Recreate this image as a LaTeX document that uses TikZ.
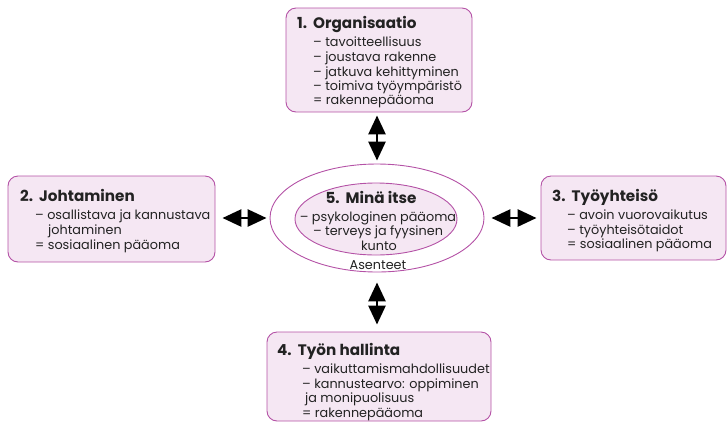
\documentclass[tikz,border=0pt]{standalone}
\usepackage{fontspec}
\setmainfont{Poppins}
\usetikzlibrary{shapes.geometric,arrows.meta}
\definecolor{bord}{HTML}{B452A6}
\definecolor{fillp}{HTML}{F5E7F3}
\definecolor{ink}{HTML}{222222}
\begin{document}
\begin{tikzpicture}[x=1pt,y=-1pt,
  box/.style={draw=bord, fill=fillp, line width=0.9pt, rounded corners=10pt, inner sep=0pt},
  ttl/.style={anchor=base west, inner sep=0pt, text=ink, font=\bfseries\fontsize{15.2}{17}\selectfont},
  txt/.style={anchor=base west, inner sep=0pt, text=ink, font=\fontsize{12.8}{14}\selectfont},
  ctxt/.style={txt, anchor=base},
  cttl/.style={ttl, anchor=base},
  dbl/.style={line width=2.8pt, draw=black, {Triangle[length=19pt,width=17pt]}-{Triangle[length=19pt,width=17pt]}}
]
\useasboundingbox (0,0) rectangle (728,424);

% boxes
\node[box, minimum width=186pt, minimum height=104pt] (b1) at (379,60) {};
\node[box, minimum width=207pt, minimum height=86pt] (b2) at (111.5,219) {};
\node[box, minimum width=185pt, minimum height=84pt] (b3) at (633.5,218) {};
\node[box, minimum width=224pt, minimum height=89pt] (b4) at (379,376.5) {};

% ellipses
\node[ellipse, draw=bord, line width=0.9pt, minimum width=214pt, minimum height=108pt, inner sep=0pt] (outer) at (377,218) {};
\node[ellipse, draw=bord, fill=fillp, line width=0.9pt, minimum width=162pt, minimum height=72pt, inner sep=0pt] (inner) at (376,219) {};

% box 1
\node[ttl] (t1) at (297,28) {1.\hspace{6pt}Organisaatio};
\node[txt] (t1a) at (313,46) {– tavoitteellisuus};
\node[txt] (t1b) at (313,61) {– joustava rakenne};
\node[txt] (t1c) at (313,76) {– jatkuva kehittyminen};
\node[txt] (t1d) at (313,90) {– toimiva työympäristö};
\node[txt] (t1e) at (313,104.5) {= rakennepääoma};

% box 2
\node[ttl] (t2) at (20,201) {2.\hspace{6pt}Johtaminen};
\node[txt] (t2a) at (35,219) {– osallistava ja kannustava};
\node[txt] (t2b) at (48,234) {johtaminen};
\node[txt] (t2c) at (35,249) {= sosiaalinen pääoma};

% box 3
\node[ttl] (t3) at (552,201) {3.\hspace{6pt}Työyhteisö};
\node[txt] (t3a) at (567,219) {– avoin vuorovaikutus};
\node[txt] (t3b) at (567,234) {– työyhteisötaidot};
\node[txt] (t3c) at (567,248.5) {= sosiaalinen pääoma};

% box 4
\node[ttl] (t4) at (277,355) {4.\hspace{6pt}Työn hallinta};
\node[txt] (t4a) at (302,373) {– vaikuttamismahdollisuudet};
\node[txt] (t4b) at (302,388) {– kannustearvo: oppiminen};
\node[txt] (t4c) at (305,402.5) {ja monipuolisuus};
\node[txt] (t4d) at (302,417) {= rakennepääoma};

% centre
\node[cttl] (t5) at (371,203) {5.\hspace{6pt}Minä itse};
\node[ctxt] (t5a) at (378,221) {– psykologinen pääoma};
\node[ctxt] (t5b) at (378,235.5) {– terveys ja fyysinen};
\node[ctxt] (t5c) at (379,250) {kunto};
\node[ctxt] (t5d) at (378,269) {Asenteet};

% arrows
\draw[dbl, shorten <=3pt, shorten >=3pt] (b1.south -| outer.north) -- (outer.north);
\draw[dbl, shorten <=10pt, shorten >=7pt] (outer.south) -- (b4.north -| outer.south);
\draw[dbl, shorten <=7pt, shorten >=3pt] (b2.east |- outer.west) -- (outer.west);
\draw[dbl, shorten <=7pt, shorten >=4pt] (outer.east) -- (b3.west |- outer.east);
\end{tikzpicture}
\end{document}
